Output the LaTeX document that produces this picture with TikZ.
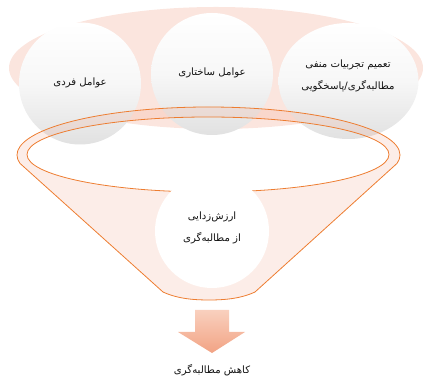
\documentclass[tikz,border=0pt]{standalone}
\usepackage{fontspec}
\usetikzlibrary{calc}
\newfontfamily\arabicfont[Script=Arabic]{DejaVu Sans}
\TeXXeTstate=1
\definecolor{bgpink}{RGB}{251,229,222}
\definecolor{funfill}{RGB}{240,150,120}
\definecolor{funline}{RGB}{237,125,49}
\definecolor{arrtop}{RGB}{249,208,190}
\definecolor{arrbot}{RGB}{242,163,132}
\definecolor{circbot}{RGB}{225,225,225}
\definecolor{circmid}{RGB}{247,247,247}
\definecolor{txt}{RGB}{20,20,20}
\tikzset{
  ball/.style={top color=white, bottom color=circbot, middle color=circmid},
  lbl/.style={font=\arabicfont\fontsize{7.6}{16.5}\selectfont, text=txt, align=center, inner sep=0pt},
  funoutline/.style={draw=funline, line width=0.6pt},
}
\begin{document}
\begin{tikzpicture}[x=0.75pt,y=0.75pt]
\useasboundingbox (0,0) rectangle (423,377);
% background ellipse
\fill[bgpink] (216,309) ellipse [x radius=207, y radius=61];
% three circles
\shade[ball] (80,293.5) circle (61);
\shade[ball] (212,303) circle (61);
\shade[ball] (348.5,296) ellipse [x radius=70, y radius=58];
% funnel body (outer rim + cone, minus inner ellipse)
\coordinate (rimR) at ($(208.5,222)+(350:191.5 and 48)$);
\fill[funfill, fill opacity=0.17, even odd rule]
  (400,222) arc[start angle=0, end angle=190, x radius=191.5, y radius=48]
  -- (163,85) .. controls (178,78) and (195,77) .. (209,77)
  .. controls (223,77) and (240,78) .. (255,85)
  -- (rimR) arc[start angle=350, end angle=360, x radius=191.5, y radius=48] -- cycle
  (208,222.5) ellipse [x radius=181, y radius=37.5];
\draw[funoutline, line join=round]
  (400,222) arc[start angle=0, end angle=190, x radius=191.5, y radius=48]
  -- (163,85) .. controls (178,78) and (195,77) .. (209,77)
  .. controls (223,77) and (240,78) .. (255,85)
  -- (rimR) arc[start angle=350, end angle=360, x radius=191.5, y radius=48] -- cycle;
\draw[funoutline] (208,222.5) ellipse [x radius=181, y radius=37.5];
% bottom circle
\fill[white] (212,146) circle (57);
% arrow
\shade[top color=arrtop, bottom color=arrbot]
  (195,67) -- (229,67) -- (229,45) -- (245,45) -- (212,24) -- (178,45) -- (195,45) -- cycle;
% texts
\node[lbl] (t1) at (80,294) {\beginR عوامل فردی\endR};
\node[lbl] (t2) at (212,304) {\beginR عوامل ساختاری\endR};
\node[lbl] (t3) at (348,301) {\beginR تعمیم تجربیات منفی\endR\\ \beginR مطالبه‌گری/پاسخگویی\endR};
\node[lbl] (t4) at (212,149) {\beginR ارزش‌زدایی\endR\\ \beginR از مطالبه‌گری\endR};
\node[lbl] (t5) at (212,7) {\beginR کاهش مطالبه‌گری\endR};
\end{tikzpicture}
\end{document}
